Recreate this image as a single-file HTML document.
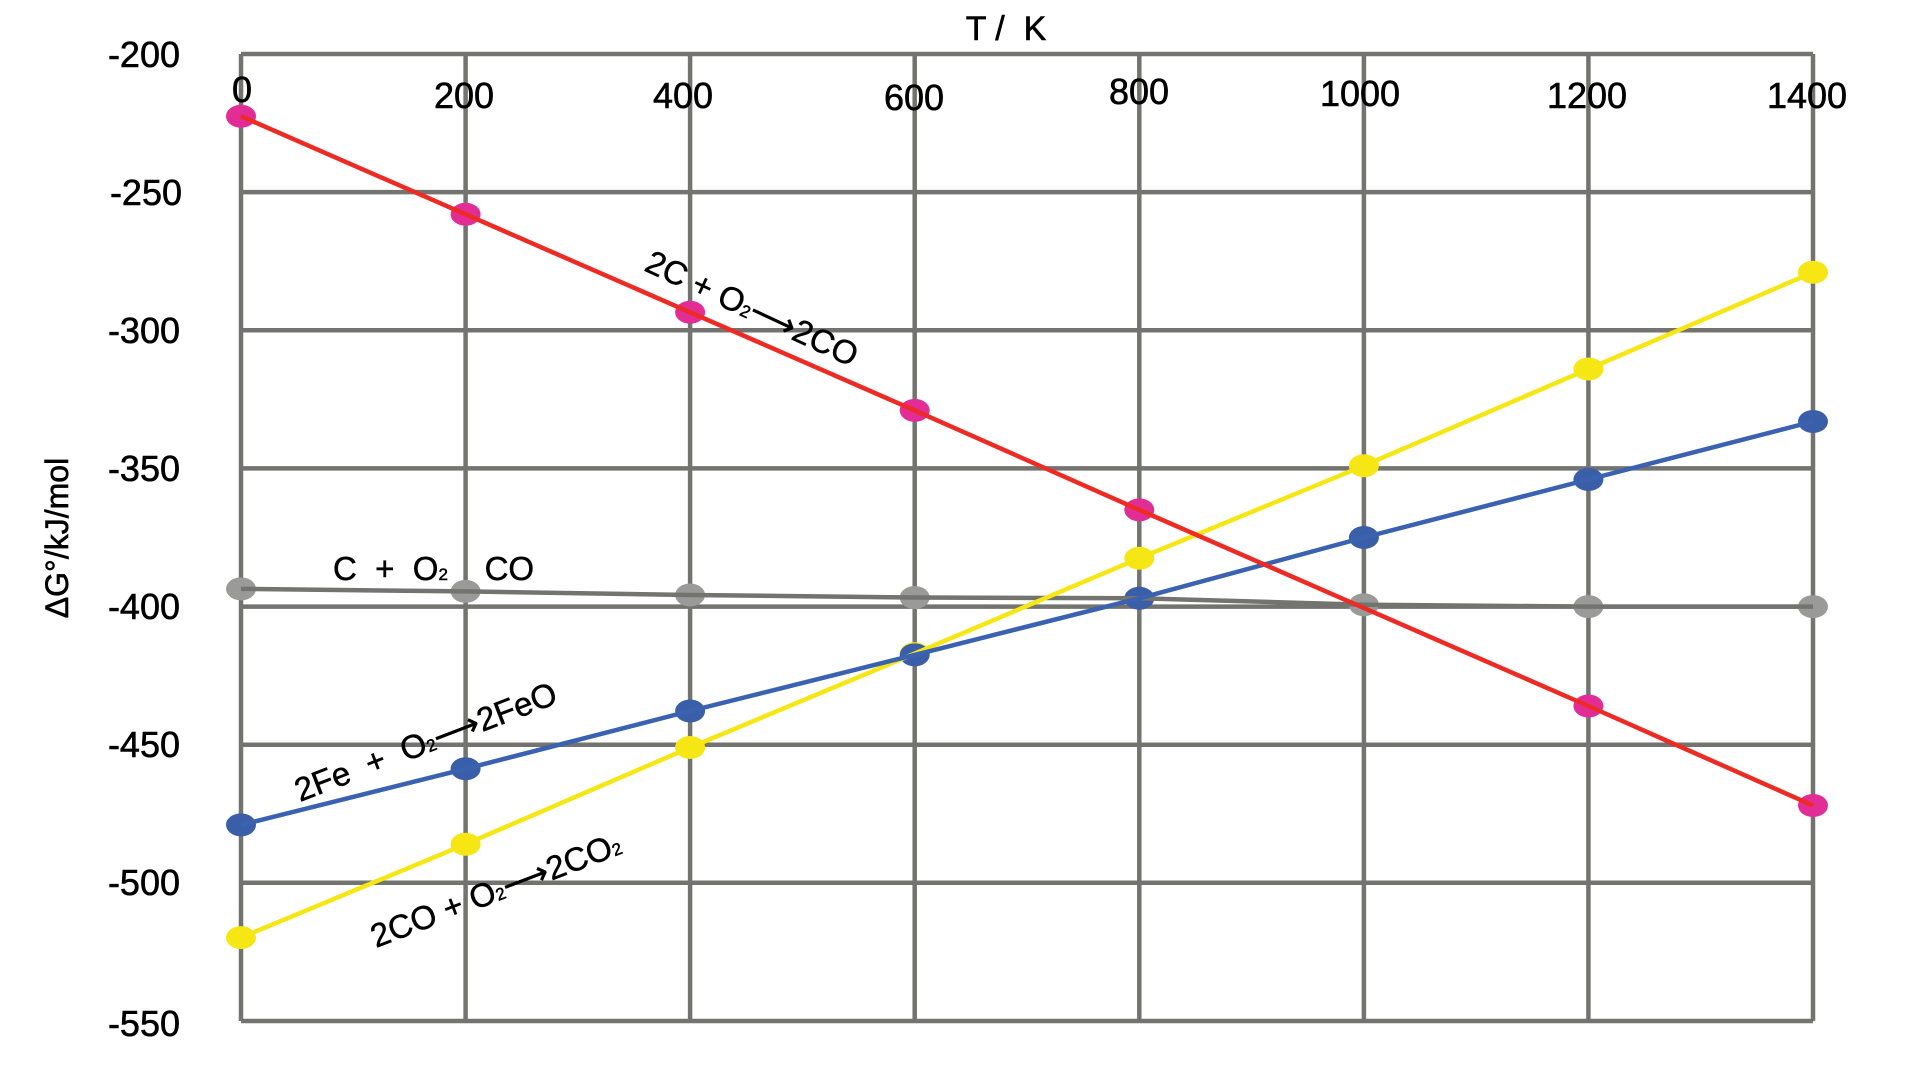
<!DOCTYPE html>
<html><head><meta charset="utf-8"><style>
html,body{margin:0;padding:0;background:#fff;width:1920px;height:1080px;overflow:hidden}
svg{display:block}
text{font-family:"Liberation Sans",sans-serif;fill:#000;white-space:pre}
</style></head><body>
<svg width="1920" height="1080" viewBox="0 0 1920 1080">
<g stroke="#737370" stroke-width="4.5" fill="none">
<line x1="241" y1="54" x2="1813" y2="54"/>
<line x1="241" y1="192.1" x2="1813" y2="192.1"/>
<line x1="241" y1="330.3" x2="1813" y2="330.3"/>
<line x1="241" y1="468.4" x2="1813" y2="468.4"/>
<line x1="241" y1="606.6" x2="1813" y2="606.6"/>
<line x1="241" y1="744.7" x2="1813" y2="744.7"/>
<line x1="241" y1="882.8" x2="1813" y2="882.8"/>
<line x1="241" y1="1021" x2="1813" y2="1021"/>
<line x1="241" y1="54" x2="241" y2="1021"/>
<line x1="465.6" y1="54" x2="465.6" y2="1021"/>
<line x1="690.1" y1="54" x2="690.1" y2="1021"/>
<line x1="914.7" y1="54" x2="914.7" y2="1021"/>
<line x1="1139.3" y1="54" x2="1139.3" y2="1021"/>
<line x1="1363.9" y1="54" x2="1363.9" y2="1021"/>
<line x1="1588.4" y1="54" x2="1588.4" y2="1021"/>
<line x1="1813" y1="54" x2="1813" y2="1021"/>
</g>
<g font-size="36" text-anchor="end" stroke="#000" stroke-width="0.6">
<text x="180" y="67">-200</text>
<text x="182" y="205">-250</text>
<text x="180" y="343">-300</text>
<text x="180" y="481">-350</text>
<text x="180" y="619">-400</text>
<text x="180" y="757">-450</text>
<text x="180" y="895">-500</text>
<text x="180" y="1036">-550</text>
</g>
<g font-size="36" text-anchor="middle" stroke="#000" stroke-width="0.6">
<text x="242" y="102">0</text>
<text x="464" y="108">200</text>
<text x="683" y="108">400</text>
<text x="914" y="110">600</text>
<text x="1139" y="104">800</text>
<text x="1360" y="106">1000</text>
<text x="1587" y="108">1200</text>
<text x="1807" y="108">1400</text>
<text x="1006" y="40" font-size="34">T /&#160;&#160;K</text>
</g>
<text transform="translate(68,538) rotate(-90)" font-size="32" text-anchor="middle" stroke="#000" stroke-width="0.6">ΔG°/kJ/mol</text>
<g fill="#e22d96">
<ellipse cx="241" cy="116.2" rx="15" ry="11.5"/><ellipse cx="465.6" cy="214.3" rx="15" ry="11.5"/><ellipse cx="690.1" cy="312.3" rx="15" ry="11.5"/><ellipse cx="914.7" cy="410.4" rx="15" ry="11.5"/><ellipse cx="1139.3" cy="509.9" rx="15" ry="11.5"/><ellipse cx="1588.4" cy="706" rx="15" ry="11.5"/><ellipse cx="1813" cy="805.5" rx="15" ry="11.5"/>
</g>
<g fill="#f5e614">
<ellipse cx="241" cy="937.6" rx="15" ry="11.5"/><ellipse cx="465.6" cy="844.2" rx="15" ry="11.5"/><ellipse cx="690.1" cy="747.5" rx="15" ry="11.5"/><ellipse cx="914.7" cy="653.6" rx="15" ry="11.5"/><ellipse cx="1139.3" cy="558.2" rx="15" ry="11.5"/><ellipse cx="1363.9" cy="465.7" rx="15" ry="11.5"/><ellipse cx="1588.4" cy="369" rx="15" ry="11.5"/><ellipse cx="1813" cy="272.3" rx="15" ry="11.5"/>
</g>
<g fill="#3a5fa8">
<ellipse cx="241" cy="824.9" rx="15" ry="11.5"/><ellipse cx="465.6" cy="768.8" rx="15" ry="11.5"/><ellipse cx="690.1" cy="711" rx="15" ry="11.5"/><ellipse cx="914.7" cy="654.9" rx="15" ry="11.5"/><ellipse cx="1139.3" cy="598.3" rx="15" ry="11.5"/><ellipse cx="1363.9" cy="537.5" rx="15" ry="11.5"/><ellipse cx="1588.4" cy="479.5" rx="15" ry="11.5"/><ellipse cx="1813" cy="421.5" rx="15" ry="11.5"/>
</g>
<g fill="#9a9a98">
<ellipse cx="241" cy="588.9" rx="15" ry="11.5"/><ellipse cx="465.6" cy="591.4" rx="15" ry="11.5"/><ellipse cx="690.1" cy="595" rx="15" ry="11.5"/><ellipse cx="914.7" cy="597.5" rx="15" ry="11.5"/><ellipse cx="1363.9" cy="604.7" rx="15" ry="11.5"/><ellipse cx="1588.4" cy="606.6" rx="15" ry="11.5"/><ellipse cx="1813" cy="606.6" rx="15" ry="11.5"/>
</g>
<g fill="none" stroke-width="4.5" stroke-linejoin="round">
<polyline stroke="#737370" points="241,588.9 465.6,591.4 690.1,595 914.7,597.5 1139.3,598.3 1363.9,604.7 1588.4,606.6 1813,606.6"/>
<polyline stroke="#f5e614" points="241,937.6 465.6,844.2 690.1,747.5 914.7,653.6 1139.3,558.2 1363.9,465.7 1588.4,369 1813,272.3"/>
<polyline stroke="#3a62b0" points="241,824.9 465.6,768.8 690.1,711 914.7,654.9 1139.3,598.3 1363.9,537.5 1588.4,479.5 1813,421.5"/>
<polyline stroke="#ee2a24" points="241,116.2 465.6,214.3 690.1,312.3 914.7,410.4 1139.3,509.9 1363.9,608 1588.4,706 1813,805.5"/>
</g>
<g font-size="33" stroke="#000" stroke-width="0.5">
<text transform="translate(643,270) rotate(25)">2C + O<tspan font-size="17">2</tspan><tspan font-family="DejaVu Sans">⟶</tspan>2CO</text>
<text x="333" y="580">C&#160;&#160;+&#160;&#160;O<tspan font-size="17">2</tspan>&#160;&#160;&#160;&#160;CO</text>
<text transform="translate(300,802) rotate(-21)">2Fe&#160;&#160;+&#160;&#160;O<tspan font-size="17">2</tspan><tspan font-family="DejaVu Sans">⟶</tspan>2FeO</text>
<text transform="translate(376,948) rotate(-21)">2CO + O<tspan font-size="17">2</tspan><tspan font-family="DejaVu Sans">⟶</tspan>2CO<tspan font-size="17">2</tspan></text>
</g>
</svg>
</body></html>
